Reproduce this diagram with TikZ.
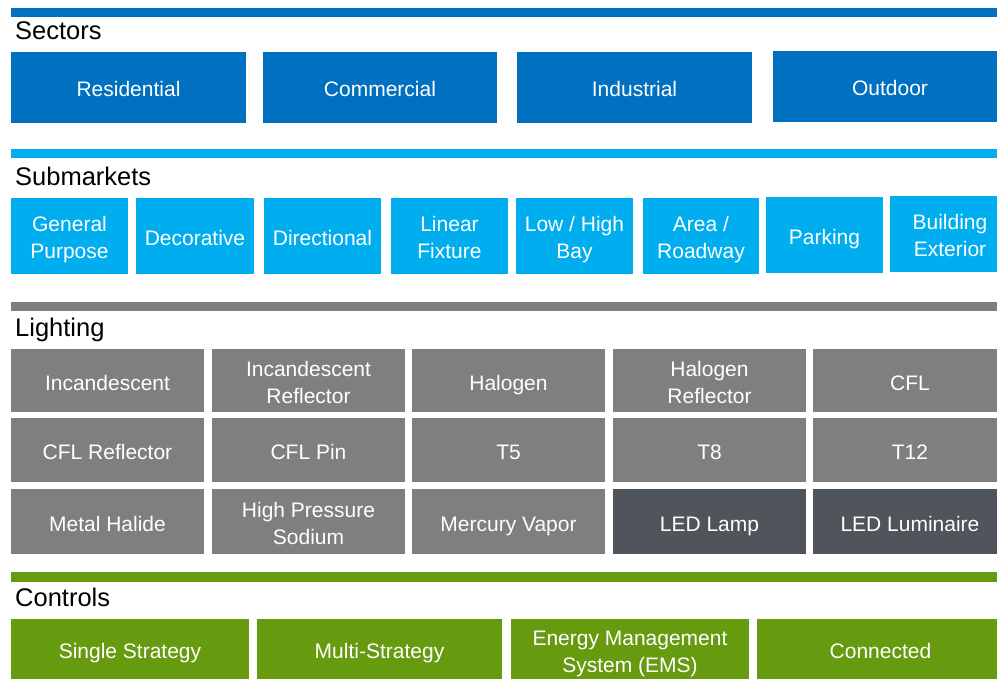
\documentclass[tikz,border=0pt]{standalone}
\usepackage{fontspec}
\setmainfont{Liberation Sans}
\definecolor{secblue}{HTML}{0070C0}
\definecolor{subblue}{HTML}{00AEEF}
\definecolor{litgray}{HTML}{7F7F7F}
\definecolor{leddark}{HTML}{50545B}
\definecolor{ctlgreen}{HTML}{669A0F}
\newcommand\cl[1]{\rule{0pt}{19pt}\smash{#1}}
\newcommand\bx[7]{%
  \pgfmathsetmacro\bw{#5-#3}\pgfmathsetmacro\bh{#6-#4}%
  \pgfmathsetmacro\bcx{(#3+#5)/2}\pgfmathsetmacro\bcy{(#4+#6)/2}%
  \node[#2, minimum width=\bw pt, minimum height=\bh pt] (#1) at (\bcx,\bcy) {#7};}
\begin{document}
\begin{tikzpicture}[x=1pt,y=-1pt,
  cell/.style={rectangle, inner sep=0pt, outer sep=0pt, align=center, text=white,
    font=\fontsize{21}{27}\selectfont},
  sec/.style={cell, fill=secblue},
  sub/.style={cell, fill=subblue},
  lit/.style={cell, fill=litgray},
  led/.style={cell, fill=leddark},
  ctl/.style={cell, fill=ctlgreen},
  head/.style={anchor=base west, inner sep=0pt, font=\fontsize{25.5}{28}\selectfont}]
\useasboundingbox (0,0) rectangle (997,679);
% Sectors
\fill[secblue] (11,8) rectangle (997,17);
\node[head] (hsec) at (15,40) {Sectors};
\bx{res}{sec}{11}{52}{246}{123}{\cl{Residential}}
\bx{com}{sec}{263}{52}{497}{123}{\cl{Commercial}}
\bx{ind}{sec}{517}{52}{752}{123}{\cl{Industrial}}
\bx{out}{sec}{773}{51}{1007}{122}{\cl{Outdoor}}
% Submarkets
\fill[subblue] (11,149) rectangle (997,158);
\node[head] (hsub) at (15,186) {Submarkets};
\bx{gp}{sub}{11}{198}{128}{274}{\cl{General}\\\cl{Purpose}}
\bx{dec}{sub}{136}{198}{254}{274}{\cl{Decorative}}
\bx{dir}{sub}{264}{198}{381}{274}{\cl{Directional}}
\bx{lin}{sub}{391}{198}{508}{274}{\cl{Linear}\\\cl{Fixture}}
\bx{low}{sub}{516}{198}{633}{274}{\cl{Low / High}\\\cl{Bay}}
\bx{area}{sub}{643}{198}{759}{274}{\cl{Area /}\\\cl{Roadway}}
\bx{park}{sub}{766}{197}{883}{273}{\cl{Parking}}
\bx{bld}{sub}{890}{196}{1010}{272}{\cl{Building}\\\cl{Exterior}}
% Lighting
\fill[litgray] (11,302) rectangle (997,311);
\node[head] (hlit) at (15,337) {Lighting};
\bx{inc}{lit}{11}{349}{204}{412}{\cl{Incandescent}}
\bx{incr}{lit}{212}{349}{405}{412}{\cl{Incandescent}\\\cl{Reflector}}
\bx{hal}{lit}{412}{349}{605}{412}{\cl{Halogen}}
\bx{halr}{lit}{613}{349}{806}{412}{\cl{Halogen}\\\cl{Reflector}}
\bx{cfl}{lit}{813}{349}{1007}{412}{\cl{CFL}}
\bx{cflr}{lit}{11}{418}{204}{482}{\cl{CFL Reflector}}
\bx{cflp}{lit}{212}{418}{405}{482}{\cl{CFL Pin}}
\bx{tfive}{lit}{412}{418}{605}{482}{\cl{T5}}
\bx{teight}{lit}{613}{418}{806}{482}{\cl{T8}}
\bx{ttwelve}{lit}{813}{418}{1007}{482}{\cl{T12}}
\bx{mh}{lit}{11}{489}{204}{554}{\cl{Metal Halide}}
\bx{hps}{lit}{212}{489}{405}{554}{\cl{High Pressure}\\\cl{Sodium}}
\bx{mv}{lit}{412}{489}{605}{554}{\cl{Mercury Vapor}}
\bx{ledl}{led}{613}{489}{806}{554}{\cl{LED Lamp}}
\bx{ledm}{led}{813}{489}{1007}{554}{\cl{LED Luminaire}}
% Controls
\fill[ctlgreen] (11,572) rectangle (997,582);
\node[head] (hctl) at (15,606) {Controls};
\bx{ss}{ctl}{11}{619}{249}{679}{\cl{Single Strategy}}
\bx{ms}{ctl}{257}{619}{502}{679}{\cl{Multi-Strategy}}
\bx{ems}{ctl}{511}{619}{749}{679}{\cl{Energy Management}\\\cl{System (EMS)}}
\bx{con}{ctl}{757}{619}{1004}{679}{\cl{Connected}}
\end{tikzpicture}
\end{document}
